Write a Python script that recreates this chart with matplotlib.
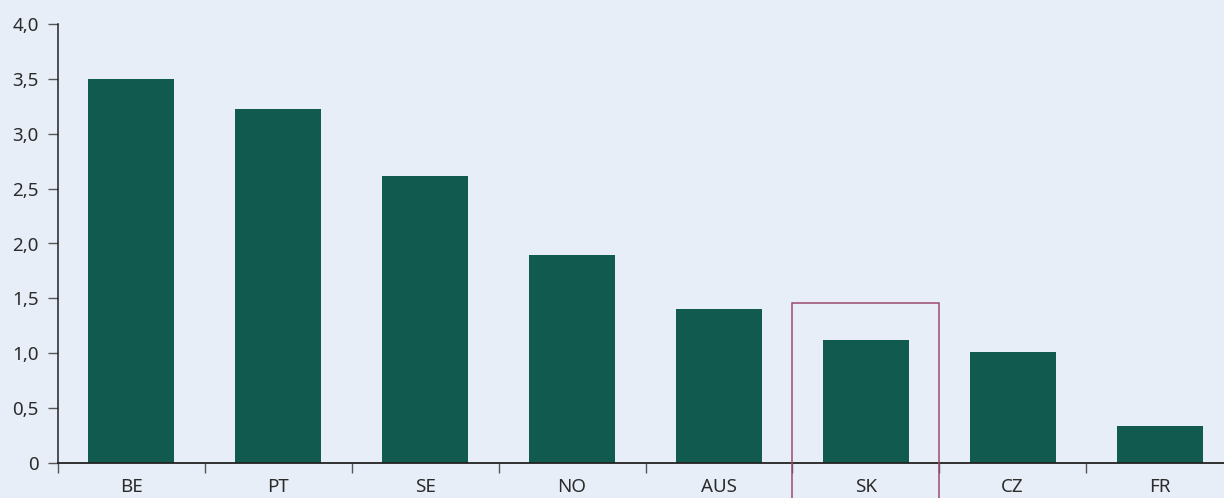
import matplotlib
matplotlib.use("Agg")
import matplotlib.pyplot as plt
from matplotlib.patches import Rectangle

# data
countries = ["BE", "PT", "SE", "NO", "AUS", "SK", "CZ", "FR"]
values = [3.50, 3.23, 2.615, 1.895, 1.40, 1.12, 1.01, 0.335]
y_ticks = [0, 0.5, 1.0, 1.5, 2.0, 2.5, 3.0, 3.5, 4.0]
y_labels = ["0", "0,5", "1,0", "1,5", "2,0", "2,5", "3,0", "3,5", "4,0"]
highlight = "SK"
highlight_top = 1.458

bg = "#e8eef8"
bar_color = "#115a4f"
box_color = "#9a4a6c"
text_color = "#2b2b2b"

plt.rcParams["font.family"] = ["Noto Sans", "DejaVu Sans"]

fig = plt.figure(figsize=(12.24, 4.98), dpi=100, facecolor=bg)
ax = fig.add_axes([58 / 1224, 35 / 498, 1175 / 1224, 439 / 498])
ax.set_facecolor(bg)

x = list(range(len(countries)))
ax.bar(x, values, width=0.585, color=bar_color, zorder=2)

ax.set_xlim(-0.5, len(countries) - 0.5)
ax.set_ylim(0, 4.0)

ax.set_yticks(y_ticks)
ax.set_yticklabels(y_labels)
ax.set_xticks(x)
ax.set_xticklabels(countries)
ax.set_xticks([i - 0.5 for i in range(len(countries) + 1)], minor=True)

ax.tick_params(axis="x", which="major", length=0, pad=11, labelsize=13.5, colors=text_color)
ax.tick_params(axis="x", which="minor", length=7, width=1, color="#555555")
ax.tick_params(axis="y", length=7, width=1, pad=7, labelsize=13.5, colors=text_color, color="#555555")

for s in ["top", "right"]:
    ax.spines[s].set_visible(False)
ax.spines["left"].set_color("#222222")
ax.spines["bottom"].set_color("#222222")
ax.spines["left"].set_linewidth(1.1)
ax.spines["bottom"].set_linewidth(1.3)
ax.spines["bottom"].set_zorder(3)

i = countries.index(highlight)
ax.add_patch(Rectangle((i - 0.5, -1), 1, highlight_top + 1, fill=False,
                       edgecolor=box_color, linewidth=1.1, clip_on=False, zorder=4))

fig.savefig("out.png", dpi=100, facecolor=bg)
